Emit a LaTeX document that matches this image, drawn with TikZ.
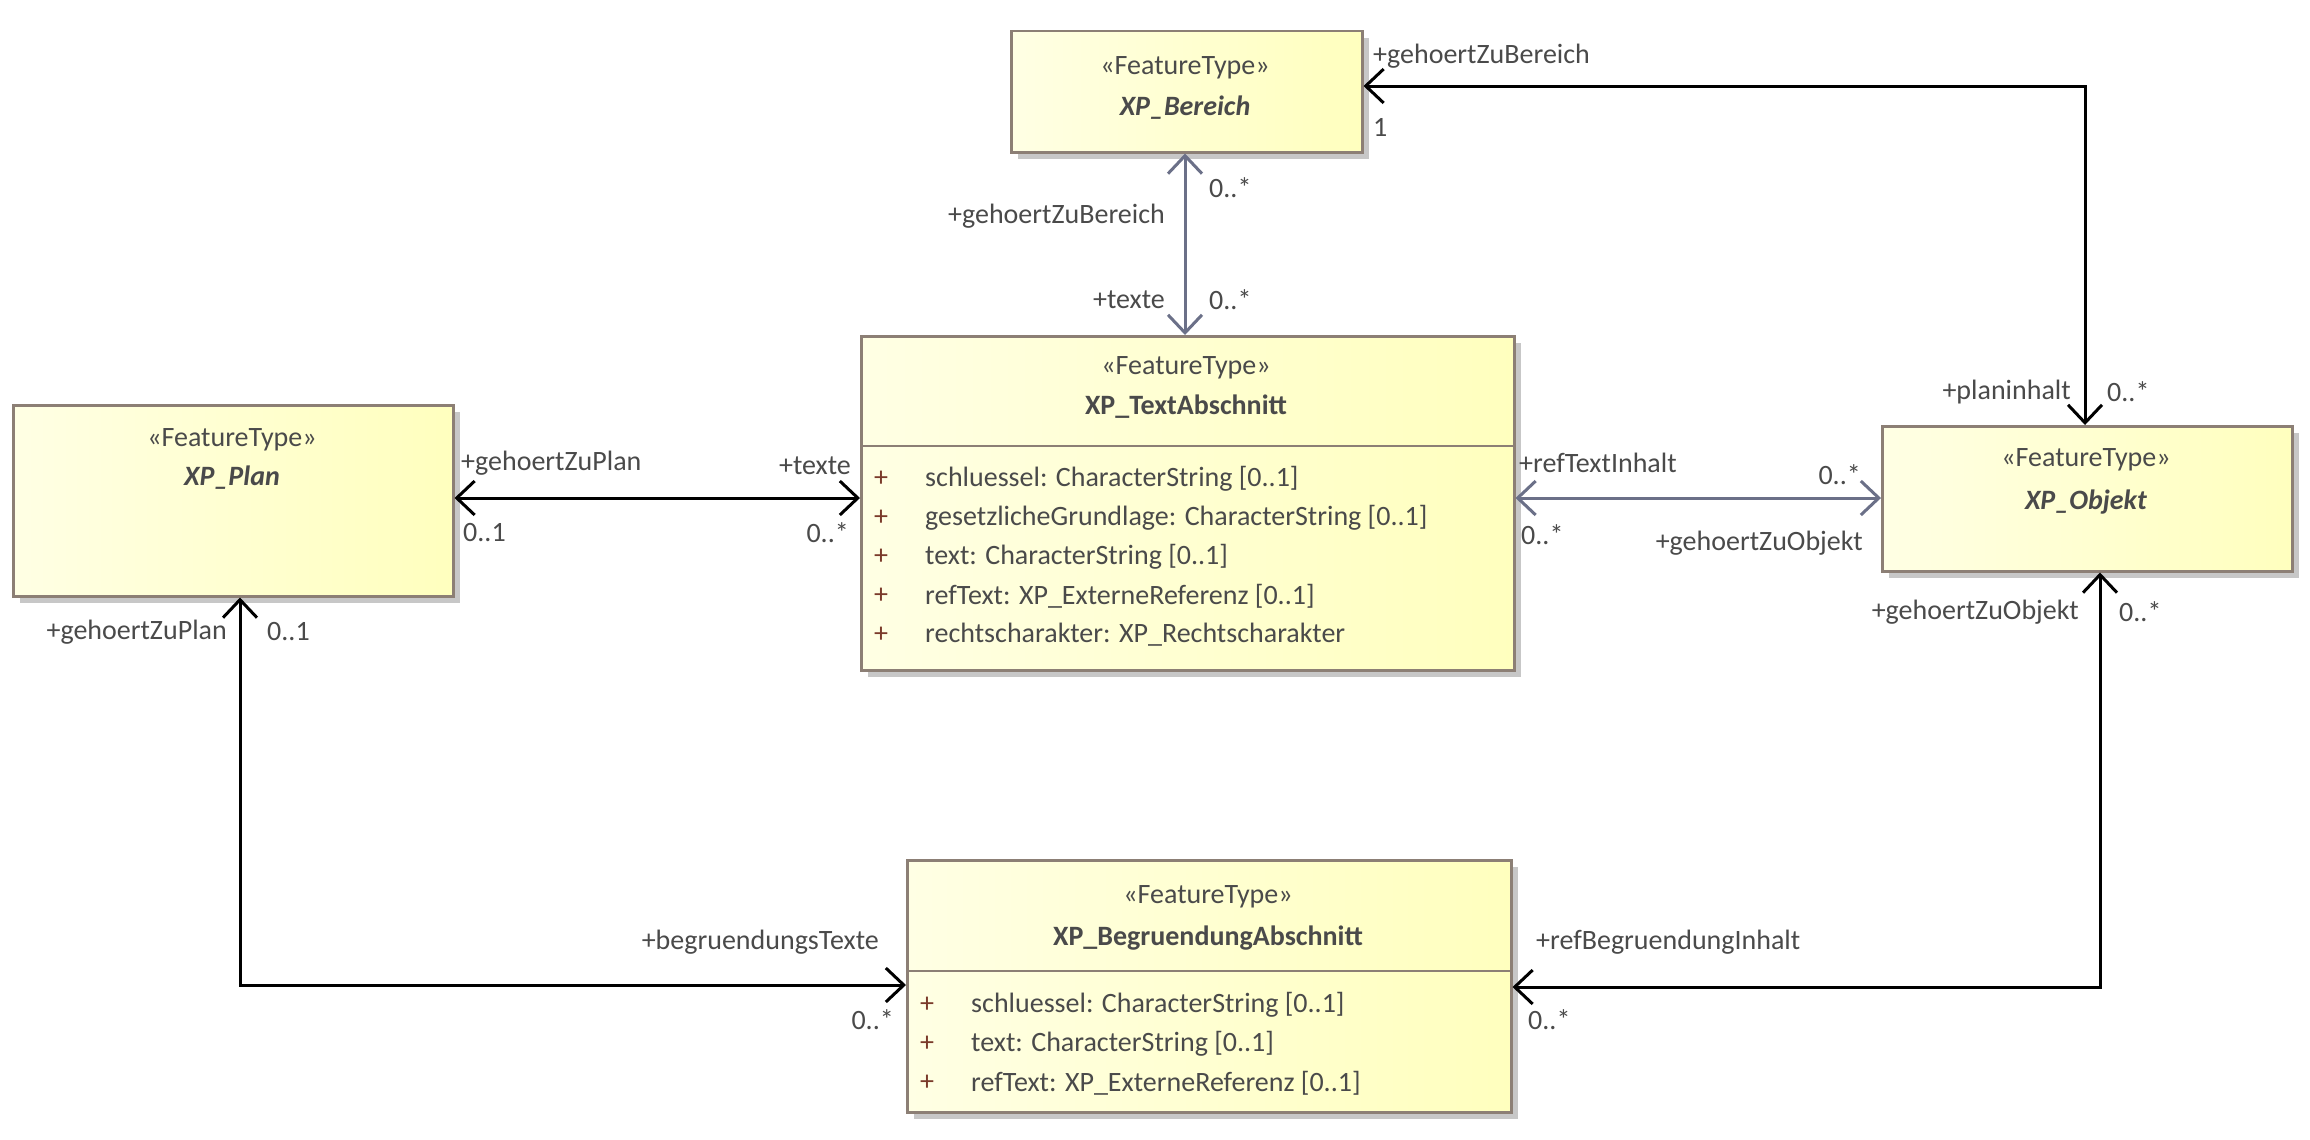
\documentclass[tikz,border=0pt]{standalone}
\usepackage{fontspec}
\setmainfont{Carlito}
\usetikzlibrary{arrows.meta,shadows}
\definecolor{txt}{HTML}{4A4A4A}
\definecolor{conn}{HTML}{6B7088}
\definecolor{bord}{HTML}{8C7F75}
\definecolor{fillA}{HTML}{FFFFE4}
\definecolor{fillB}{HTML}{FFFFBE}
\definecolor{plusc}{HTML}{7A3A2A}
\begin{document}
\begin{tikzpicture}[x=1pt,y=-1pt,
  font=\fontsize{28}{32}\selectfont, text=txt,
  box/.style={draw=bord, line width=2.5pt, left color=fillA, right color=fillB, anchor=north west, inner sep=0pt,
     drop shadow={shadow xshift=7pt, shadow yshift=-7pt, fill=black!22, opacity=1}},
  lbl/.style={inner sep=1pt, text=txt},
  cw/.style={line width=3pt, black, {Straight Barb[length=18pt,width=34pt]}-{Straight Barb[length=18pt,width=34pt]}},
  cg/.style={cw, draw=conn},
  attr/.style={anchor=west, inner sep=0pt, text=txt},
  plus/.style={anchor=center, inner sep=0pt, text=plusc}]
\useasboundingbox (0,0) rectangle (2310,1140);
\fill[white] (0,0) rectangle (2310,1140);
% boxes
\node[box, minimum width=351pt, minimum height=121pt] (bereich) at (1010,30) {};
\node[box, minimum width=653pt, minimum height=334pt] (text) at (860,335) {};
\node[box, minimum width=440pt, minimum height=191pt] (plan) at (12,404) {};
\node[box, minimum width=410pt, minimum height=145pt] (objekt) at (1881,425) {};
\node[box, minimum width=604pt, minimum height=252pt] (begr) at (906,859) {};
\draw[bord, line width=2.5pt] (860,446) -- (1513,446);
\draw[bord, line width=2.5pt] (906,971) -- (1510,971);
% headers
\node[lbl] (bst) at (1185,68) {«FeatureType»};
\node[lbl] (bnm) at (1185,108) {\textbf{\textit{XP\_Bereich}}};
\node[lbl] (tst) at (1186,368) {«FeatureType»};
\node[lbl] (tnm) at (1186,407) {\textbf{XP\_TextAbschnitt}};
\node[lbl] (pst) at (232,440) {«FeatureType»};
\node[lbl] (pnm) at (232,478) {\textbf{\textit{XP\_Plan}}};
\node[lbl] (ost) at (2086,460) {«FeatureType»};
\node[lbl] (onm) at (2086,502) {\textbf{\textit{XP\_Objekt}}};
\node[lbl] (gst) at (1208,897) {«FeatureType»};
\node[lbl] (gnm) at (1208,938) {\textbf{XP\_BegruendungAbschnitt}};
% attributes
\foreach \y/\t [count=\i] in {479/{schluessel: CharacterString [0..1]},518/{gesetzlicheGrundlage: CharacterString [0..1]},557/{text: CharacterString [0..1]},596/{refText: XP\_ExterneReferenz [0..1]},635/{rechtscharakter: XP\_Rechtscharakter}}{
  \node[plus] (tp\i) at (881,\y) {+};
  \node[attr] (ta\i) at (925,\y) {\t};
}
\foreach \y/\t [count=\i] in {1005/{schluessel: CharacterString [0..1]},1044/{text: CharacterString [0..1]},1083/{refText: XP\_ExterneReferenz [0..1]}}{
  \node[plus] (gp\i) at (927,\y) {+};
  \node[attr] (ga\i) at (971,\y) {\t};
}
% connectors
\coordinate (c1) at (2085,86);
\coordinate (c2) at (240,985);
\coordinate (c3) at (2100,987);
\draw[cg] (bereich.south -| 1185,0) -- (text.north -| 1185,0);
\draw[cw] (bereich.east |- c1) -- (c1) -- (objekt.north -| c1);
\draw[cw] (plan.east |- 0,498) -- (text.west |- 0,498);
\draw[cg] (text.east |- 0,498) -- (objekt.west |- 0,498);
\draw[cw] (plan.south -| c2) -- (c2) -- (begr.west |- c2);
\draw[cw] (objekt.south -| c3) -- (c3) -- (begr.east |- c3);
% labels
\node[lbl,anchor=west] (l1) at (1372,56) {+gehoertZuBereich};
\node[lbl,anchor=west] (l2) at (1372,127) {1};
\node[lbl,anchor=east] (l3) at (1166,216) {+gehoertZuBereich};
\node[lbl,anchor=west] (l4) at (1208,188) {0..*};
\node[lbl,anchor=east] (l5) at (1166,300) {+texte};
\node[lbl,anchor=west] (l6) at (1208,300) {0..*};
\node[lbl,anchor=east] (l7) at (2072,392) {+planinhalt};
\node[lbl,anchor=west] (l8) at (2106,392) {0..*};
\node[lbl,anchor=west] (l9) at (460,463) {+gehoertZuPlan};
\node[lbl,anchor=west] (l10) at (462,533) {0..1};
\node[lbl,anchor=east] (l11) at (852,466) {+texte};
\node[lbl,anchor=east] (l12) at (850,533) {0..*};
\node[lbl,anchor=west] (l13) at (1518,463) {+refTextInhalt};
\node[lbl,anchor=east] (l14) at (1862,475) {0..*};
\node[lbl,anchor=west] (l15) at (1520,535) {0..*};
\node[lbl,anchor=east] (l16) at (1864,543) {+gehoertZuObjekt};
\node[lbl,anchor=east] (l17) at (228,632) {+gehoertZuPlan};
\node[lbl,anchor=west] (l18) at (266,632) {0..1};
\node[lbl,anchor=east] (l19) at (2080,612) {+gehoertZuObjekt};
\node[lbl,anchor=west] (l20) at (2118,612) {0..*};
\node[lbl,anchor=east] (l21) at (880,942) {+begruendungsTexte};
\node[lbl,anchor=east] (l22) at (895,1020) {0..*};
\node[lbl,anchor=west] (l23) at (1535,942) {+refBegruendungInhalt};
\node[lbl,anchor=west] (l24) at (1527,1020) {0..*};
\end{tikzpicture}
\end{document}
